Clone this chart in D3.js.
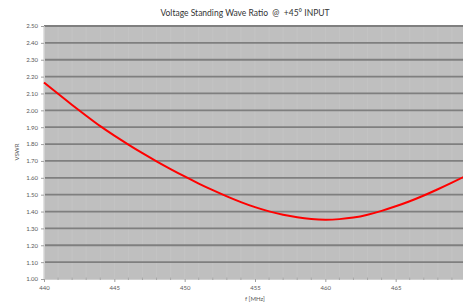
<!DOCTYPE html>
<html><head><meta charset="utf-8">
<script src="https://cdn.jsdelivr.net/npm/d3@7"></script>
<style>body{margin:0;background:#fff;}svg{display:block;}</style>
</head><body>
<svg id="c" width="463" height="304"></svg>
<script>
const freqs = [440,441,442,443,444,445,446,447,448,449,450,451,452,453,454,455,456,457,458,459,460,461,462,463,464,465,466,467,468,469,470];
const vswr  = [2.165,2.098,2.032,1.968,1.906,1.850,1.797,1.746,1.698,1.652,1.608,1.566,1.527,1.490,1.456,1.426,1.401,1.381,1.366,1.356,1.352,1.355,1.364,1.381,1.404,1.431,1.461,1.495,1.532,1.571,1.612];
const yTicks = [1.00,1.10,1.20,1.30,1.40,1.50,1.60,1.70,1.80,1.90,2.00,2.10,2.20,2.30,2.40,2.50];
const xTicks = [440,445,450,455,460,465];
const xMinor = d3.range(440,471,1);
const title = "Voltage Standing Wave Ratio\u00a0\u00a0@\u00a0\u00a0+45° INPUT";
const xTitle = "f [MHz]";
const yTitle = "VSWR";

const svg = d3.select("#c");
const L=44, R=466, T=26, B=279;
const x = d3.scaleLinear().domain([440,470]).range([L,R]);
const y = d3.scaleLinear().domain([1,2.5]).range([B,T]);
const font = "Lato, 'Liberation Sans', sans-serif";

svg.append("rect").attr("x",L).attr("y",T).attr("width",R-L).attr("height",B-T).attr("fill","#bfbfbf");
svg.append("g").selectAll("line").data(xMinor).join("line")
  .attr("x1",d=>x(d)).attr("x2",d=>x(d)).attr("y1",T).attr("y2",B)
  .attr("stroke","#c4c4c4").attr("stroke-width",1);
svg.append("g").selectAll("line").data(yTicks.filter(d=>d>1)).join("line")
  .attr("x1",L).attr("x2",R).attr("y1",d=>y(d)).attr("y2",d=>y(d))
  .attr("stroke","#7f7f7f").attr("stroke-width",1.8);

const ya = svg.append("g").attr("transform",`translate(${L},0)`)
  .call(d3.axisLeft(y).tickValues(yTicks).tickFormat(d3.format(".2f")).tickSize(3).tickPadding(3));
ya.select(".domain").attr("stroke","#d0d0d0");
ya.selectAll(".tick line").attr("stroke","#a0a0a0");
ya.selectAll("text").attr("font-family",font).attr("font-size","6px").attr("fill","#595959");

const xa = svg.append("g").attr("transform",`translate(0,${B})`)
  .call(d3.axisBottom(x).tickValues(xTicks).tickFormat(d3.format("d")).tickSize(3).tickPadding(4));
xa.select(".domain").attr("stroke","#d0d0d0");
xa.selectAll(".tick line").attr("stroke","#a0a0a0");
xa.selectAll("text").attr("font-family",font).attr("font-size","6px").attr("fill","#595959");
svg.append("g").selectAll("line").data(xMinor.filter(d=>d%5!==0)).join("line")
  .attr("x1",d=>x(d)).attr("x2",d=>x(d)).attr("y1",B-1.5).attr("y2",B+1)
  .attr("stroke","#a8a8a8").attr("stroke-width",1);

const line = d3.line().x((d,i)=>x(freqs[i])).y(d=>y(d)).curve(d3.curveNatural);
svg.append("path").datum(vswr).attr("d",line).attr("fill","none").attr("stroke","#ff0000").attr("stroke-width",2);

svg.append("text").attr("x",245).attr("y",16).attr("text-anchor","middle")
  .attr("font-family",font).attr("font-size","8.5px").attr("fill","#333").text(title);
svg.append("text").attr("x",255).attr("y",301).attr("text-anchor","middle")
  .attr("font-family",font).attr("font-size","6px").attr("fill","#595959").text(xTitle);
svg.append("text").attr("transform","translate(19,152) rotate(-90)").attr("text-anchor","middle")
  .attr("font-family",font).attr("font-size","6px").attr("fill","#595959").text(yTitle);
</script>
</body></html>
